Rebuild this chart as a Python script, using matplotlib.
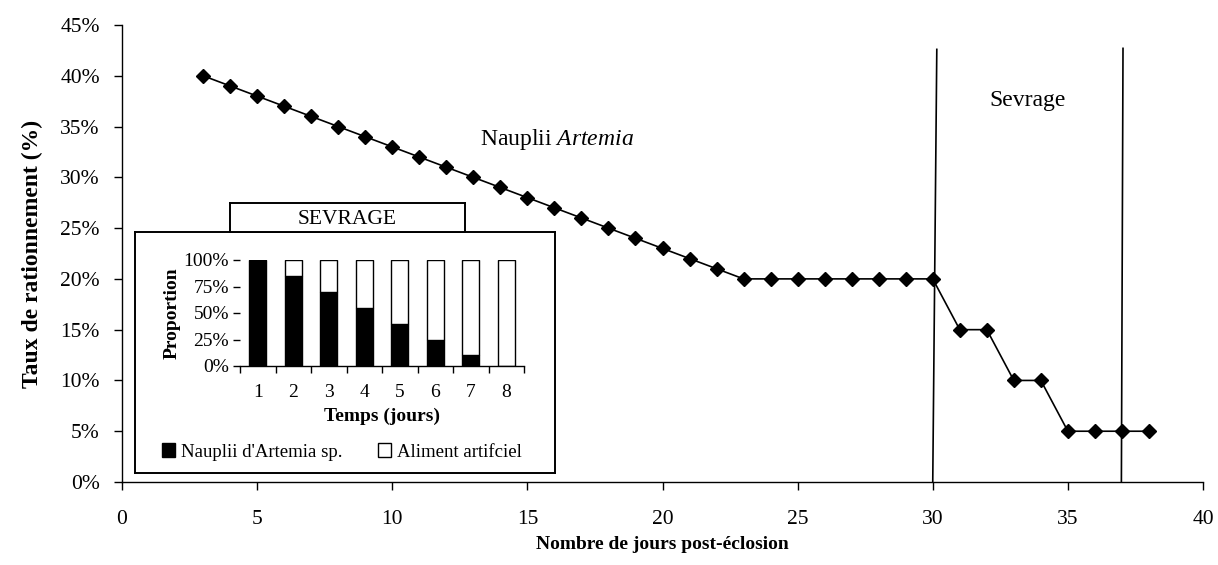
import matplotlib
matplotlib.use("Agg")
import matplotlib.pyplot as plt
from matplotlib.patches import Patch
from matplotlib.ticker import FuncFormatter, FixedLocator

plt.rcParams['font.family'] = ['Liberation Serif', 'DejaVu Serif']
plt.rcParams['mathtext.fontset'] = 'custom'
plt.rcParams['mathtext.rm'] = 'Liberation Serif'
plt.rcParams['mathtext.it'] = 'Liberation Serif:italic'

#### Données : taux de rationnement ####
jours = [3, 4, 5, 6, 7, 8, 9, 10, 11, 12, 13, 14, 15, 16, 17, 18, 19, 20, 21, 22,
         23, 24, 25, 26, 27, 28, 29, 30, 31, 32, 33, 34, 35, 36, 37, 38]
taux = [40, 39, 38, 37, 36, 35, 34, 33, 32, 31, 30, 29, 28, 27, 26, 25, 24, 23, 22, 21,
        20, 20, 20, 20, 20, 20, 20, 20, 15, 15, 10, 10, 5, 5, 5, 5]

# limites de la phase de sevrage (jours)
debut_sevrage = 30
fin_sevrage = 37

#### Données : proportion des aliments pendant le sevrage ####
temps = [1, 2, 3, 4, 5, 6, 7, 8]
artemia = [100, 85, 70, 55, 40, 25, 10, 0]
artificiel = [0, 15, 30, 45, 60, 75, 90, 100]

W, H = 1218, 565
fig = plt.figure(figsize=(W / 100, H / 100), dpi=100)

def box(x0, y0, x1, y1):
    # coordonnées en pixels (origine en haut à gauche)
    return [x0 / W, 1 - y1 / H, (x1 - x0) / W, (y1 - y0) / H]

#### Graphique principal ####
ax = fig.add_axes(box(122, 25, 1203, 482))
ax.plot(jours, taux, color='black', lw=1.2, marker='D', markersize=7.5, zorder=3)
ax.plot([debut_sevrage, debut_sevrage + 0.15], [0, 42.6], color='black', lw=1.2)
ax.plot([fin_sevrage - 0.02, fin_sevrage + 0.04], [0, 42.7], color='black', lw=1.2)

ax.set_xlim(0, 40)
ax.set_ylim(0, 45)
ax.set_xticks(range(0, 41, 5))
ax.set_yticks(range(0, 46, 5))
ax.yaxis.set_major_formatter(FuncFormatter(lambda v, p: f"{v:.0f}%"))
for s in ['top', 'right']:
    ax.spines[s].set_visible(False)
for s in ['left', 'bottom']:
    ax.spines[s].set_linewidth(1.0)
ax.tick_params(axis='both', labelsize=15.5, direction='out', length=6, width=1.0)
ax.tick_params(axis='x', pad=14)
ax.tick_params(axis='y', pad=10)
ax.set_xlabel('Nombre de jours post-éclosion', fontsize=14, fontweight='bold', labelpad=5)
ax.set_ylabel('Taux de rationnement (%)', fontsize=17, fontweight='bold', labelpad=12)

ax.text(16.1, 33.7, 'Nauplii $\\it{Artemia}$', fontsize=17, ha='center', va='center')
ax.text(33.5, 37.6, 'Sevrage', fontsize=17, ha='center', va='center')

#### Cadre de l'encart ####
cadre = fig.add_axes(box(135, 232, 555, 473))
titre = fig.add_axes(box(230, 203, 465, 232))
for a in (cadre, titre):
    a.set_xticks([])
    a.set_yticks([])
    a.set_facecolor('white')
    for s in a.spines.values():
        s.set_linewidth(1.4)
titre.text(0.5, 0.42, 'SEVRAGE', fontsize=15.5, ha='center', va='center', transform=titre.transAxes)

#### Encart : barres empilées ####
ax_in = fig.add_axes(box(240, 260, 524, 366))
larg = 0.47
ax_in.bar(temps, artemia, width=larg, color='black', edgecolor='black', lw=1)
ax_in.bar(temps, artificiel, bottom=artemia, width=larg, color='white', edgecolor='black', lw=1)
ax_in.set_xlim(0.5, 8.5)
ax_in.set_ylim(0, 100)
ax_in.set_yticks([0, 25, 50, 75, 100])
ax_in.yaxis.set_major_formatter(FuncFormatter(lambda v, p: f"{v:.0f}%"))
ax_in.xaxis.set_major_locator(FixedLocator([t + 0.5 for t in [0] + temps]))
ax_in.xaxis.set_minor_locator(FixedLocator(temps))
ax_in.set_xticklabels([])
ax_in.set_xticklabels([str(t) for t in temps], minor=True)
ax_in.tick_params(axis='x', which='major', direction='out', length=5, width=1)
ax_in.tick_params(axis='x', which='minor', length=0, pad=13, labelsize=14)
ax_in.tick_params(axis='y', direction='out', length=5, width=1, labelsize=14, pad=3)
for s in ['top', 'right', 'left']:
    ax_in.spines[s].set_visible(False)
ax_in.spines['bottom'].set_linewidth(1)
ax_in.set_xlabel('Temps (jours)', fontsize=14, fontweight='bold', labelpad=5)
ax_in.set_ylabel('Proportion', fontsize=14, fontweight='bold', labelpad=2)

poignees = [Patch(facecolor='black', edgecolor='black', lw=1),
            Patch(facecolor='white', edgecolor='black', lw=1)]
fig.legend(poignees, ["Nauplii d'Artemia sp.", 'Aliment artifciel'], loc='center',
           bbox_to_anchor=(342 / W, 1 - 452 / H), ncol=2, frameon=False, fontsize=13.5,
           handlelength=0.7, handleheight=0.7, handletextpad=0.3, columnspacing=1.9)

fig.savefig('out.png', dpi=100)
